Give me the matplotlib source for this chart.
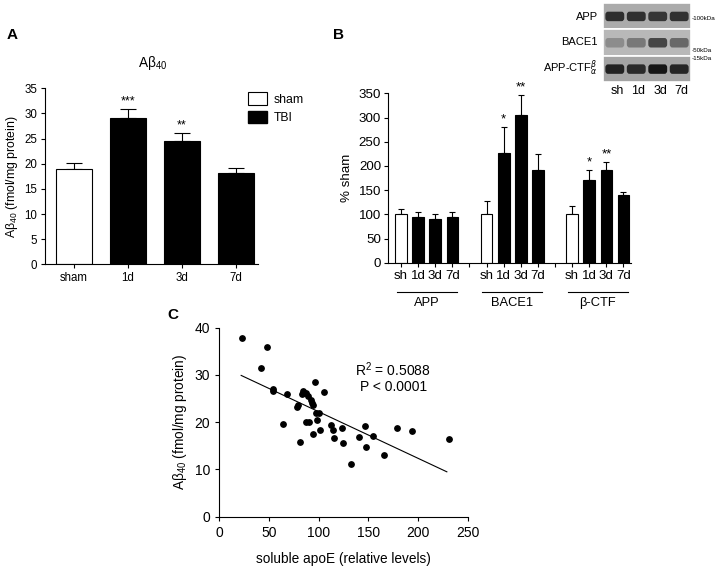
import numpy as np
import matplotlib
matplotlib.use('Agg')
import matplotlib.pyplot as plt
from matplotlib.patches import Patch, Rectangle, FancyBboxPatch
from matplotlib.transforms import blended_transform_factory

plt.rcParams['font.family'] = ['Liberation Sans', 'DejaVu Sans']
plt.rcParams['mathtext.fontset'] = 'custom'
plt.rcParams['mathtext.rm'] = 'Liberation Sans'
plt.rcParams['axes.linewidth'] = 0.8

# Panel A data
a_labels = ['sham', '1d', '3d', '7d']
a_means = [19.0, 29.1, 24.5, 18.2]
a_err = [1.1, 1.7, 1.7, 0.9]
a_stars = ['', '***', '**', '']

# Panel B data
b_groups = ['APP', 'BACE1', '\u03b2-CTF']
b_ticklabels = ['sh', '1d', '3d', '7d']
b_means = [[100, 95, 90, 94], [100, 227, 305, 192], [100, 170, 192, 140]]
b_err = [[12, 10, 11, 11], [28, 53, 41, 33], [17, 22, 16, 7]]
b_stars = [['', '', '', ''], ['', '*', '**', ''], ['', '*', '**', '']]

# Blot band darkness per lane sh,1d,3d,7d
blot_rows = ['APP', 'BACE1', 'APP-CTF']
blot_bg = ['#ababab', '#b8b8b8', '#a4a4a4']
blot_bands = [['#2e2e2e', '#303030', '#363636', '#313131'],
              ['#8c8c8c', '#787878', '#454545', '#686868'],
              ['#222222', '#2a2a2a', '#161616', '#252525']]
blot_markers = ['-100kDa', '-50kDa', '-15kDa']

# Panel C data
c_x = [22.5, 41.9, 47.6, 53.7, 54.3, 63.6, 67.8, 77.9, 78.9, 81.3, 82.9, 83.9, 87.3, 87.5,
       89.6, 89.8, 92.0, 93.6, 94.0, 94.6, 96.3, 97.0, 98.6, 100.6, 101.3, 105.7, 112.4,
       114.1, 115.4, 123.5, 124.0, 132.6, 140.6, 147.0, 147.7, 155.0, 165.8, 178.5, 193.6, 230.9]
c_y = [37.9, 31.5, 35.9, 27.0, 26.5, 19.7, 26.0, 23.3, 23.6, 15.9, 26.0, 26.7, 26.2, 20.1,
       25.5, 20.1, 24.8, 24.1, 23.6, 17.4, 28.6, 22.0, 20.5, 21.9, 18.4, 26.3, 19.5,
       18.4, 16.6, 18.8, 15.6, 11.2, 16.9, 19.3, 14.8, 17.1, 13.1, 18.8, 18.1, 16.5]
fit_x = [22, 229]
fit_y = [29.9, 9.5]

fig = plt.figure(figsize=(7.2, 5.71), dpi=100)

def style_ax(ax):
    ax.spines['top'].set_visible(False)
    ax.spines['right'].set_visible(False)
    ax.tick_params(direction='out', length=3, width=0.8)

ab = 'A\u03b2$_{\\mathregular{40}}$'

# ---- A ----
ax = fig.add_axes([0.0625, 0.5371, 0.2958, 0.3083])
style_ax(ax)
xa = np.arange(len(a_labels))
cols = ['white'] + ['black'] * 3
ax.bar(xa, a_means, width=0.67, color=cols, edgecolor='black', linewidth=0.8, zorder=2)
ax.errorbar(xa, a_means, yerr=[np.zeros(4), a_err], fmt='none', ecolor='black',
            elinewidth=0.8, capsize=6, capthick=0.8, zorder=1)
for i in range(4):
    if a_stars[i]:
        ax.text(xa[i], a_means[i] + a_err[i] + 0.3, a_stars[i], ha='center', va='bottom', fontsize=9)
ax.set_xlim(-0.53, 3.41)
ax.set_ylim(0, 35)
ax.set_yticks(np.arange(0, 36, 5))
ax.set_xticks(xa)
ax.set_xticklabels(a_labels)
ax.tick_params(labelsize=8.3, pad=2.5)
ax.set_ylabel(ab + ' (fmol/mg protein)', fontsize=8.8, labelpad=3)
ax.legend(handles=[Patch(facecolor='white', edgecolor='black', linewidth=0.8, label='sham'),
                   Patch(facecolor='black', edgecolor='black', label='TBI')],
          loc='upper left', bbox_to_anchor=(0.9, 1.04), frameon=False, fontsize=8.8,
          handlelength=1.6, handleheight=1.2, handletextpad=0.5, labelspacing=0.4)
fig.text(153 / 720, 1 - 63 / 571, ab, ha='center', va='center', fontsize=9.8)
fig.text(7 / 720, 1 - 35 / 571, 'A', ha='left', va='center', fontsize=11, weight='bold')

# ---- B ----
ax = fig.add_axes([0.5389, 0.5399, 0.3375, 0.2967])
style_ax(ax)
pos, lab, hts, errs, colb = [], [], [], [], []
for g in range(3):
    for k in range(4):
        p = g * 5 + k
        pos.append(p)
        lab.append(b_ticklabels[k])
        hts.append(b_means[g][k])
        errs.append(b_err[g][k])
        colb.append('white' if k == 0 else 'black')
ax.bar(pos, hts, width=0.68, color=colb, edgecolor='black', linewidth=0.8, zorder=2)
ax.errorbar(pos, hts, yerr=[np.zeros(len(pos)), errs], fmt='none', ecolor='black',
            elinewidth=0.8, capsize=2.5, capthick=0.8, zorder=1)
for g in range(3):
    for k in range(4):
        if b_stars[g][k]:
            ax.text(g * 5 + k, b_means[g][k] + b_err[g][k] + 3, b_stars[g][k],
                    ha='center', va='bottom', fontsize=9.5)
ax.set_xlim(-0.76, 13.44)
ax.set_ylim(0, 350)
ax.set_yticks(np.arange(0, 351, 50))
ax.set_xticks(pos)
ax.set_xticklabels(lab)
ax.set_xticks([4, 9], minor=True)
ax.tick_params(axis='x', which='minor', length=3, width=0.8)
ax.tick_params(labelsize=9.6, pad=2)
ax.set_ylabel('% sham', fontsize=9.6)
tr = blended_transform_factory(ax.transData, ax.transAxes)
for g in range(3):
    ax.plot([g * 5 - 0.25, g * 5 + 3.25], [-0.173, -0.173], color='black', lw=0.8,
            transform=tr, clip_on=False)
    ax.text(g * 5 + 1.5, -0.2, b_groups[g], ha='center', va='top', fontsize=9.3, transform=tr)
fig.text(338 / 720, 1 - 35 / 571, 'B', ha='center', va='center', fontsize=11, weight='bold')

# ---- blot inset ----
axb = fig.add_axes([603 / 720, 1 - 82 / 571, 88 / 720, 79 / 571])
axb.set_xlim(-0.55, 3.55)
axb.set_ylim(2.5, -0.5)
axb.axis('off')
for r in range(3):
    axb.add_patch(Rectangle((-0.55, r - 0.5), 4.1, 1.0, facecolor=blot_bg[r],
                            edgecolor='white', linewidth=1.2))
    for k in range(4):
        axb.add_patch(FancyBboxPatch((k - 0.4, r - 0.13), 0.8, 0.28,
                                     boxstyle='round,pad=0.04,rounding_size=0.12',
                                     facecolor=blot_bands[r][k], edgecolor='none'))
fig.text(598 / 720, 1 - 17 / 571, 'APP', ha='right', va='center', fontsize=8)
fig.text(598 / 720, 1 - 42 / 571, 'BACE1', ha='right', va='center', fontsize=8)
fig.text(598 / 720, 1 - 68 / 571, 'APP-CTF$^{\\beta}_{\\alpha}$', ha='right', va='center', fontsize=8)
fig.text(692 / 720, 1 - 19 / 571, blot_markers[0], ha='left', va='center', fontsize=4.5)
fig.text(692 / 720, 1 - 51 / 571, blot_markers[1], ha='left', va='center', fontsize=4.5)
fig.text(692 / 720, 1 - 58 / 571, blot_markers[2], ha='left', va='center', fontsize=4.5)
for k, t in enumerate(b_ticklabels):
    fig.text((617 + k * 21.5) / 720, 1 - 91 / 571, t, ha='center', va='center', fontsize=9)

# ---- C ----
ax = fig.add_axes([0.3046, 0.0951, 0.345, 0.331])
style_ax(ax)
ax.scatter(c_x, c_y, s=15, color='black', zorder=3)
ax.plot(fit_x, fit_y, color='black', lw=0.8)
ax.set_xlim(0, 250)
ax.set_ylim(0, 40)
ax.set_xticks(np.arange(0, 251, 50))
ax.set_yticks(np.arange(0, 41, 10))
ax.tick_params(labelsize=10)
ax.set_xlabel('soluble apoE (relative levels)', fontsize=9.8, labelpad=9)
ax.set_ylabel(ab + ' (fmol/mg protein)', fontsize=9.8)
ax.text(175, 29.5, 'R$^{\\mathregular{2}}$ = 0.5088\nP < 0.0001', ha='center', va='center',
        fontsize=10, linespacing=1.15)
fig.text(173 / 720, 1 - 315 / 571, 'C', ha='center', va='center', fontsize=11, weight='bold')

fig.savefig('out.png', dpi=100)
